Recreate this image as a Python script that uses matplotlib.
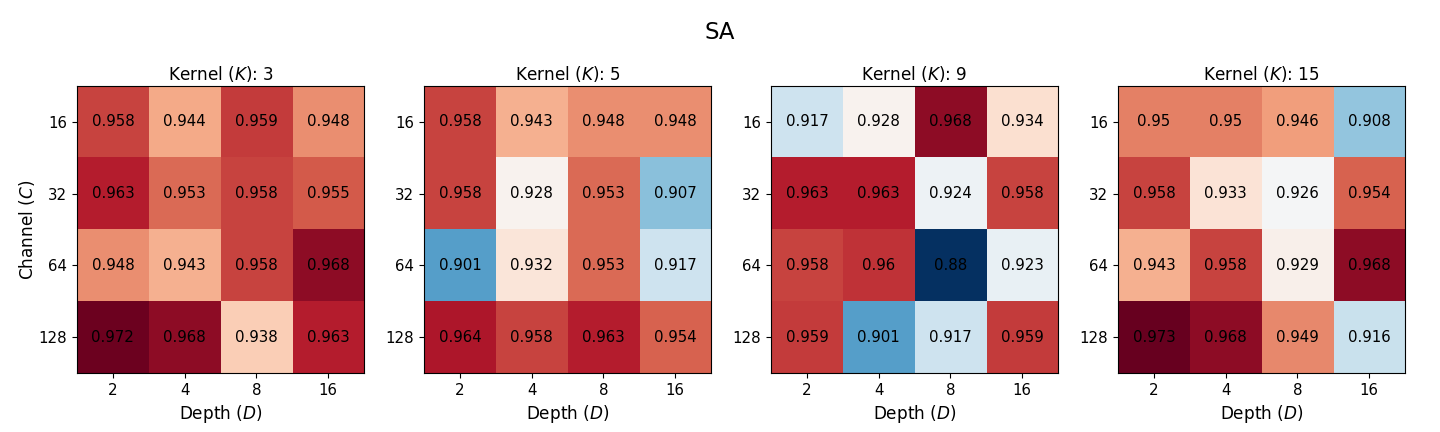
import numpy as np
import matplotlib
matplotlib.use('Agg')
import matplotlib.pyplot as plt

depths = [2, 4, 8, 16]
channels = [16, 32, 64, 128]
kernels = [3, 5, 9, 15]

# rows: channel, cols: depth
acc_k3 = [[0.958, 0.944, 0.959, 0.948],
          [0.963, 0.953, 0.958, 0.955],
          [0.948, 0.943, 0.958, 0.968],
          [0.972, 0.968, 0.938, 0.963]]
acc_k5 = [[0.958, 0.943, 0.948, 0.948],
          [0.958, 0.928, 0.953, 0.907],
          [0.901, 0.932, 0.953, 0.917],
          [0.964, 0.958, 0.963, 0.954]]
acc_k9 = [[0.917, 0.928, 0.968, 0.934],
          [0.963, 0.963, 0.924, 0.958],
          [0.958, 0.96, 0.88, 0.923],
          [0.959, 0.901, 0.917, 0.959]]
acc_k15 = [[0.95, 0.95, 0.946, 0.908],
           [0.958, 0.933, 0.926, 0.954],
           [0.943, 0.958, 0.929, 0.968],
           [0.973, 0.968, 0.949, 0.916]]

tables = [acc_k3, acc_k5, acc_k9, acc_k15]
vmin = min(np.min(t) for t in tables)
vmax = max(np.max(t) for t in tables)

fig, axes = plt.subplots(1, 4, figsize=(14.4, 4.32), dpi=100)
plt.subplots_adjust(left=0.0535, right=0.9757, top=0.801, bottom=0.1366, wspace=0.209)

for i, ax in enumerate(axes):
    data = np.array(tables[i])
    ax.imshow(data, cmap='RdBu_r', vmin=vmin, vmax=vmax)
    for r in range(data.shape[0]):
        for c in range(data.shape[1]):
            ax.text(c, r, f'{data[r, c]:g}', ha='center', va='center', color='black', fontsize=10.8)
    ax.set_xticks(range(len(depths)))
    ax.set_xticklabels(depths, fontsize=10.8)
    ax.set_yticks(range(len(channels)))
    ax.set_yticklabels(channels, fontsize=10.8)
    ax.set_xlabel('Depth ($D$)', fontsize=12.2)
    ax.set_title(f'Kernel ($K$): {kernels[i]}', fontsize=12.2, pad=4)
    if i == 0:
        ax.set_ylabel('Channel ($C$)', fontsize=12.2, labelpad=1)

fig.suptitle('SA', fontsize=16.4, y=0.925, va='center')
plt.savefig('out.png', dpi=100)
